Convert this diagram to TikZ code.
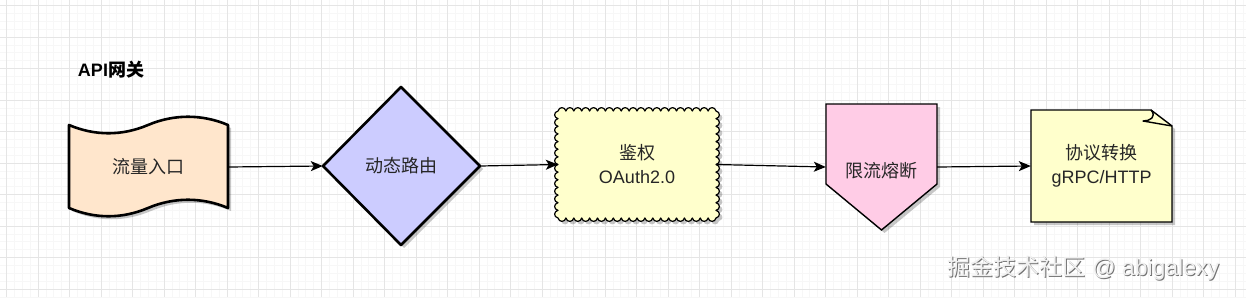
\documentclass[tikz,border=0pt]{standalone}
\usepackage{fontspec}
\setmainfont{Liberation Sans}
\newfontfamily\cjk{Noto Sans CJK SC}
\usetikzlibrary{arrows.meta,shadows,calc}
\definecolor{peach}{HTML}{FFE6CC}
\definecolor{lilac}{HTML}{CCCCFF}
\definecolor{paleyellow}{HTML}{FFFFCC}
\definecolor{palepink}{HTML}{FFCCE6}
\tikzset{
  shad/.style={drop shadow={shadow xshift=3pt,shadow yshift=-3pt,opacity=0.22,fill=black}},
  label text/.style={font=\fontsize{18}{24}\selectfont, align=center, text=black!85},
  conn/.style={line width=1.2pt, -{Stealth[length=12pt,width=10pt,inset=3pt]}},
  thickline/.style={line width=2.6pt, line join=round},
  thinline/.style={line width=1.4pt, line join=miter},
}
\begin{document}
\begin{tikzpicture}[x=1pt,y=-1pt]
\useasboundingbox (0,0) rectangle (1246,297);
\fill[white] (0,0) rectangle (1246,297);
% minor grid
\foreach \i in {0,...,160} {
  \draw[black!3, line width=0.6pt] ({6.5+7.875*\i},0) -- ({6.5+7.875*\i},297);
}
\foreach \i in {0,...,40} {
  \draw[black!3, line width=0.6pt] (0,{5.5+7.875*\i}) -- (1246,{5.5+7.875*\i});
}
% major grid
\foreach \i in {0,...,40} {
  \draw[black!10, line width=0.8pt] ({6.5+31.5*\i},0) -- ({6.5+31.5*\i},297);
}
\foreach \i in {0,...,10} {
  \draw[black!10, line width=0.8pt] (0,{5.5+31.5*\i}) -- (1246,{5.5+31.5*\i});
}

% title
\node[font=\fontsize{18}{20}\selectfont\bfseries] (title) at (111,70) {API{\cjk\bfseries 网关}};

% tape shape
\filldraw[fill=peach, draw=black, thickline, shad]
  (69,125) .. controls (95,136) and (122,136) .. (148,125)
           .. controls (174,114) and (202,114) .. (228,125)
  -- (228,208) .. controls (202,197) and (174,197) .. (148,208)
               .. controls (122,219) and (95,219) .. (69,208) -- cycle;
\node[label text, minimum width=159pt, minimum height=83pt, inner sep=0pt] (entry) at (148.5,167) {\cjk 流量入口};

% diamond
\filldraw[fill=lilac, draw=black, thickline, shad]
  (401,87) -- (480,166) -- (401,245) -- (323,166) -- cycle;
\node[label text, minimum width=157pt, minimum height=158pt, inner sep=0pt] (route) at (401.5,166) {\cjk 动态路由};

% scalloped rectangle: x 558..716 (20 bumps of 7.9), y 111..218 (14 bumps of 7.642857)
\filldraw[fill=paleyellow, draw=black, line width=1.2pt, line join=round, shad]
  (558,111)
  \foreach \i in {0,...,19} {
    .. controls ({558+7.9*\i+1},106.5) and ({558+7.9*(\i+1)-1},106.5) .. ({558+7.9*(\i+1)},111)
  }
  \foreach \i in {0,...,13} {
    .. controls (720.5,{111+7.642857*\i+1}) and (720.5,{111+7.642857*(\i+1)-1}) .. (716,{111+7.642857*(\i+1)})
  }
  \foreach \i in {0,...,19} {
    .. controls ({716-7.9*\i-1},222.5) and ({716-7.9*(\i+1)+1},222.5) .. ({716-7.9*(\i+1)},218)
  }
  \foreach \i in {0,...,13} {
    .. controls (553.5,{218-7.642857*\i-1}) and (553.5,{218-7.642857*(\i+1)+1}) .. (558,{218-7.642857*(\i+1)})
  }
  -- cycle;
\node[label text, minimum width=158pt, minimum height=107pt, inner sep=0pt] (auth) at (637,164.5)
  {{\cjk 鉴权}\\OAuth2.0};

% pentagon (off-page connector)
\filldraw[fill=palepink, draw=black, thinline, shad]
  (826,104) -- (937,104) -- (937,184) -- (881.5,230) -- (826,184) -- cycle;
\node[minimum width=111pt, minimum height=126pt, inner sep=0pt] (limit) at (881.5,167) {};
\node[label text] (limittxt) at (881.5,171) {\cjk 限流熔断};

% note
\filldraw[fill=paleyellow, draw=black, thinline, shad]
  (1031,110) -- (1151,110) -- (1172,126) -- (1172,222) -- (1031,222) -- cycle;
\draw[black, line width=1.4pt, line join=round]
  (1151,110) .. controls (1157,117) and (1150,121) .. (1143,121) -- (1172,126);
\node[label text, minimum width=141pt, minimum height=112pt, inner sep=0pt] (proto) at (1101.5,166)
  {{\cjk 协议转换}\\gRPC/HTTP};

% connectors
\draw[conn] (entry.east) -- (route.west);
\draw[conn] (route.east) -- (auth.west);
\draw[conn] (auth.east) -- (limit.west);
\draw[conn] (limit.east) -- (proto.west);

% watermark
\node[font=\fontsize{23}{26}\selectfont, text=black!55] (wmshadow) at (1084.5,269.5) {{\cjk 掘金技术社区} @ abigalexy};
\node[font=\fontsize{23}{26}\selectfont, text=white!94!black] (wm) at (1083.5,268.5) {{\cjk 掘金技术社区} @ abigalexy};
\end{tikzpicture}
\end{document}
